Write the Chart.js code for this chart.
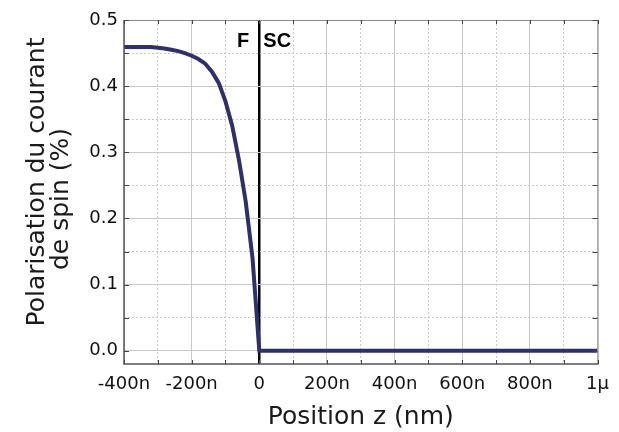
<!DOCTYPE html>
<html>
<head>
<meta charset="utf-8">
<script src="https://cdn.jsdelivr.net/npm/chart.js@4"></script>
<style>
	html, body { margin: 0; padding: 0; background: #fff; }
	#wrap { width: 619px; height: 432px; }
</style>
</head>
<body>
<div id="wrap"><canvas id="chart" width="619" height="432"></canvas></div>
<script>
// position along z, in nm (negative side = ferromagnet, positive = superconductor)
const positionNm = [-400, -380, -360, -340, -320, -300, -280, -260, -240, -220, -200, -180, -160, -140, -120, -100, -80, -60, -40, -20, 0, 200, 400, 600, 800, 1000];
// spin current polarisation
const polarisation = [0.459, 0.459, 0.459, 0.459, 0.459, 0.458, 0.457, 0.455, 0.453, 0.450, 0.446, 0.441, 0.434, 0.422, 0.405, 0.377, 0.340, 0.288, 0.225, 0.140, 0.0, 0.0, 0.0, 0.0, 0.0, 0.0];

const xTitle = 'Position z (nm)';
const yTitle = ['Polarisation du courant', 'de spin (%)'];
const regionLabels = ['F', 'SC'];

const gridGrey = '#c8c8c8';
const curveColor = '#2f2f6b';

function xTickLabel(v)
{
	if (v % 200 !== 0) return '';
	if (v === 0) return '0';
	if (v % 1000 === 0) return (v / 1000) + 'μ';
	return v + 'n';
}

function isMajorY(v)
{
	return Math.round(v * 100) % 10 === 0;
}

// frame, inward ticks, region labels and axis titles
const decorations = {
	id: 'decorations',
	afterDraw(chart)
	{
		const ctx = chart.ctx;
		const a = chart.chartArea;
		const xs = chart.scales.x;
		const ys = chart.scales.y;

		ctx.save();

		// frame
		ctx.lineWidth = 1;
		ctx.strokeStyle = '#8a8a8a';
		ctx.beginPath();
		ctx.moveTo(a.left, a.top + 0.5);
		ctx.lineTo(a.right + 0.5, a.top + 0.5);
		ctx.lineTo(a.right + 0.5, a.bottom);
		ctx.stroke();
		ctx.strokeStyle = '#555';
		ctx.lineWidth = 1.5;
		ctx.beginPath();
		ctx.moveTo(a.left, a.top);
		ctx.lineTo(a.left, a.bottom);
		ctx.lineTo(a.right + 1, a.bottom);
		ctx.stroke();

		// inward ticks
		ctx.strokeStyle = '#444';
		ctx.lineWidth = 1;
		ctx.beginPath();
		xs.ticks.forEach(t => {
			const px = Math.round(xs.getPixelForValue(t.value)) + 0.5;
			ctx.moveTo(px, a.bottom);
			ctx.lineTo(px, a.bottom - 4);
			ctx.moveTo(px, a.top);
			ctx.lineTo(px, a.top + 4);
		});
		ys.ticks.forEach(t => {
			const py = Math.round(ys.getPixelForValue(t.value)) + 0.5;
			ctx.moveTo(a.left, py);
			ctx.lineTo(a.left + 5, py);
			ctx.moveTo(a.right, py);
			ctx.lineTo(a.right - 5, py);
		});
		ctx.stroke();

		// F | SC
		const x0 = xs.getPixelForValue(0);
		ctx.fillStyle = '#000';
		ctx.font = 'bold 20px "Liberation Sans", Arial, sans-serif';
		ctx.textBaseline = 'alphabetic';
		ctx.textAlign = 'right';
		ctx.fillText(regionLabels[0], x0 - 10, a.top + 27);
		ctx.textAlign = 'left';
		ctx.fillText(regionLabels[1], x0 + 4, a.top + 27);

		// axis titles
		ctx.fillStyle = '#1a1a1a';
		ctx.font = '25px "DejaVu Sans", sans-serif';
		ctx.textAlign = 'center';
		ctx.fillText(xTitle, (a.left + a.right) / 2, 424);

		ctx.save();
		ctx.translate(44, 182);
		ctx.rotate(-Math.PI / 2);
		ctx.fillText(yTitle[0], 0, 0);
		ctx.restore();
		ctx.save();
		ctx.translate(68, 199);
		ctx.rotate(-Math.PI / 2);
		ctx.fillText(yTitle[1], 0, 0);
		ctx.restore();

		ctx.restore();
	}
};

new Chart(document.getElementById('chart'), {
	type: 'line',
	data: {
		datasets: [
			{
				data: positionNm.map((x, i) => ({ x: x, y: polarisation[i] })),
				borderColor: curveColor,
				borderWidth: 4,
				pointRadius: 0,
				tension: 0,
				fill: false,
			}
		]
	},
	options: {
		responsive: false,
		animation: false,
		layout: {
			padding: { top: 20, right: 13, left: 0, bottom: 0 }
		},
		plugins: {
			legend: { display: false },
			tooltip: { enabled: false },
		},
		scales: {
			x: {
				type: 'linear',
				min: -400,
				max: 1000,
				afterFit: scale => { scale.height = 68; },
				ticks: {
					stepSize: 100,
					autoSkip: false,
					maxRotation: 0,
					padding: 10,
					color: '#111',
					font: { family: '"DejaVu Sans", sans-serif', size: 18 },
					callback: v => xTickLabel(v),
				},
				grid: {
					drawTicks: false,
					color: c => c.tick && c.tick.value === 0 ? '#000' : gridGrey,
					lineWidth: c => c.tick && c.tick.value === 0 ? 2.5 : 1,
				},
				border: {
					display: false,
					dash: c => c.tick && c.tick.value % 200 !== 0 ? [2, 2] : [],
				},
			},
			y: {
				min: -0.02,
				max: 0.5,
				afterFit: scale => { scale.width = 124; },
				ticks: {
					stepSize: 0.05,
					includeBounds: false,
					autoSkip: false,
					padding: 6,
					color: '#111',
					font: { family: '"DejaVu Sans", sans-serif', size: 18 },
					callback: v => isMajorY(v) ? (Math.abs(v) < 1e-9 ? 0 : v).toFixed(1) : '',
				},
				grid: {
					drawTicks: false,
					color: gridGrey,
					lineWidth: 1,
				},
				border: {
					display: false,
					dash: c => c.tick && !isMajorY(c.tick.value) ? [2, 2] : [],
				},
			}
		}
	},
	plugins: [decorations]
});
</script>
</body>
</html>
